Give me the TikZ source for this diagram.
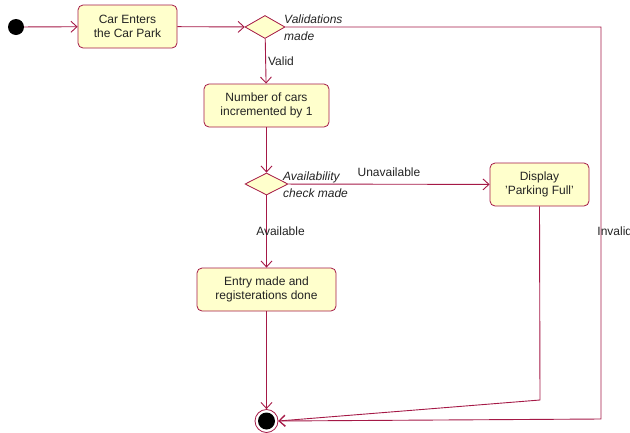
\documentclass[tikz,border=0pt]{standalone}
\usepackage{fontspec}
\setmainfont{Liberation Sans}
\usetikzlibrary{arrows.meta,shapes.geometric}
\definecolor{lnc}{RGB}{165,25,70}
\definecolor{boxfill}{RGB}{255,255,204}
\definecolor{txt}{RGB}{35,35,35}
\tikzset{
  act/.style={draw=lnc,fill=boxfill,rounded corners=5pt,line width=0.8pt,align=center,inner sep=0pt,text=txt,font=\fontsize{12}{14}\selectfont},
  dec/.style={draw=lnc,fill=boxfill,diamond,line width=0.8pt,inner sep=0pt,minimum width=40pt,minimum height=23pt},
  conn/.style={draw=lnc,line width=0.9pt,-{Straight Barb[length=6pt,width=11pt]}},
  lbl/.style={text=txt,font=\fontsize{12}{14}\selectfont,inner sep=0pt},
  ilbl/.style={text=txt,font=\fontsize{12}{17}\selectfont\itshape,inner sep=0pt,align=left}
}
\begin{document}
\begin{tikzpicture}[x=1pt,y=-1pt]
\useasboundingbox (0,0) rectangle (630,432);
\node[circle,fill=black,minimum size=16pt,inner sep=0pt] (start) at (16,27) {};
\node[act,minimum width=99pt,minimum height=43pt] (enter) at (127.5,26.5) {Car Enters\\the Car Park};
\node[dec] (val) at (265,27) {};
\node[ilbl,anchor=west] (vallbl) at (284,28) {Validations\\made};
\node[act,minimum width=125pt,minimum height=43pt] (incr) at (266.5,105.5) {Number of cars\\incremented by 1};
\node[dec,minimum width=43pt,minimum height=22pt] (avail) at (266.5,184) {};
\node[ilbl,anchor=west] (availlbl) at (283,185) {Availability\\check made};
\node[act,minimum width=99pt,minimum height=43pt] (full) at (539.5,184.5) {Display\\'Parking Full'};
\node[act,minimum width=139pt,minimum height=43pt] (entry) at (266.5,289.5) {Entry made and\\registerations done};
\node[circle,draw=lnc,fill=white,line width=0.8pt,minimum size=23pt,inner sep=0pt] (final) at (266.5,421) {};
\node[circle,fill=black,minimum size=17pt,inner sep=0pt] (finalin) at (266.5,421) {};
\coordinate (c1) at (601,27);
\coordinate (c2) at (601,419);
\coordinate (c3) at (540,400);
\draw[conn] (start) -- (enter);
\draw[conn] (enter) -- (val);
\draw[conn] (val) -- node[lbl,right=2pt,pos=0.5] {Valid} (incr);
\draw[conn] (incr) -- (avail);
\draw[conn] (avail) -- node[lbl,pos=0.5,above=7pt] {Unavailable} (full);
\draw[conn] (avail) -- node[lbl,pos=0.5,xshift=14pt] {Available} (entry);
\draw[conn] (entry) -- (final);
\draw[conn] (full.south) -- (c3) -- (final.east);
\draw[conn] (val.east) -- (c1) -- node[lbl,pos=0.52,anchor=west,xshift=-4pt] {Invalid} (c2) -- (final.east);
\end{tikzpicture}
\end{document}
